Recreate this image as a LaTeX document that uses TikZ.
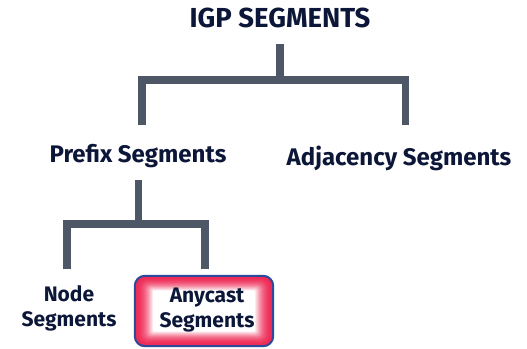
\documentclass[tikz,border=0pt]{standalone}
\usepackage{fontspec}
\setmainfont{Fira Sans}
\usetikzlibrary{calc}
\definecolor{txt}{HTML}{0B1638}
\definecolor{linec}{HTML}{4E5766}
\definecolor{glowred}{HTML}{EE2A55}
\definecolor{boxedge}{HTML}{2B4A9C}
\begin{document}
\begin{tikzpicture}[x=1pt,y=-1pt,
  lbl/.style={text=txt,font=\fontsize{21}{25}\selectfont\bfseries,align=center,inner sep=0pt},
  biglbl/.style={lbl,font=\fontsize{24}{28}\selectfont\bfseries},
  tree/.style={draw=linec,line width=7.5pt,line join=miter}]
\useasboundingbox (0,0) rectangle (527,348);
\node[lbl,font=\fontsize{27.5}{30}\selectfont\bfseries] (igp) at (280,18) {IGP SEGMENTS};
\node[biglbl] (prefix) at (138,156) {Prefix Segments};
\node[biglbl] (adj) at (399,158) {Adjacency Segments};
\node[lbl] (nodeseg) at (69,308) {Node\\Segments};
\node[lbl,minimum width=138pt,minimum height=70pt,rounded corners=10pt,fill=glowred,
  path picture={
    \foreach \i in {1,...,18}{
      \pgfmathsetmacro{\pc}{100*(1-(\i/18)^2)}
      \pgfmathsetmacro{\rr}{max(10-0.5*\i,1)}
      \fill[color=glowred!\pc!white,rounded corners=\rr pt]
        ([shift={(\i pt,-0.8*\i pt)}]path picture bounding box.north west) rectangle
        ([shift={(-\i pt,0.8*\i pt)}]path picture bounding box.south east);
    }
  }] (any) at (204,311) {};
\draw[boxedge,line width=2pt,rounded corners=10pt] (any.north west) rectangle (any.south east);
\node[lbl] (anytxt) at (207,310) {Anycast\\Segments};
% tree connectors
\draw[tree] ($(igp.center)+(0,26)$) -- ($(igp.center)+(0,62)$);
\draw[tree] ($(prefix.center)+(4,-31)$) |- ($(adj.center)+(6.5,-78)$) -- ($(adj.center)+(6.5,-33)$);
\draw[tree] ($(prefix.center)+(0.5,24)$) -- ($(prefix.center)+(0.5,68)$);
\draw[tree] ($(nodeseg.center)+(-2,-39)$) |- ($(any.center)+(1,-87)$) -- ($(any.center)+(1,-42)$);
\end{tikzpicture}
\end{document}
